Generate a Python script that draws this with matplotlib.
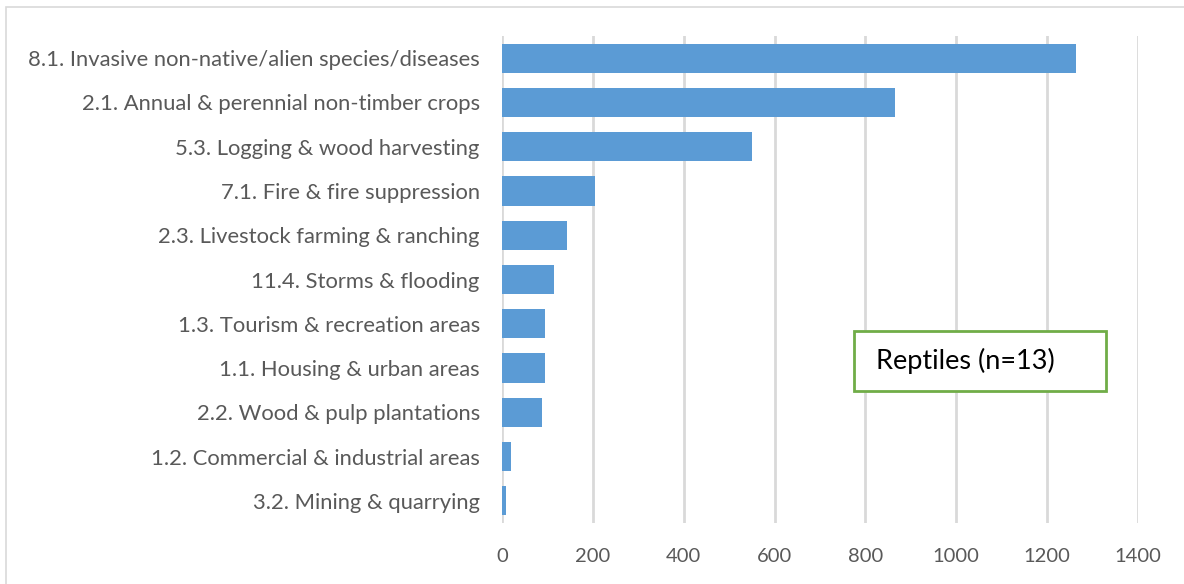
import matplotlib
matplotlib.use("Agg")
import matplotlib.pyplot as plt
from matplotlib.patches import Rectangle

plt.rcParams['font.family'] = ['Lato', 'DejaVu Sans']

# threat categories (top to bottom)
threats = ["8.1. Invasive non-native/alien species/diseases",
           "2.1. Annual & perennial non-timber crops",
           "5.3. Logging & wood harvesting",
           "7.1. Fire & fire suppression",
           "2.3. Livestock farming & ranching",
           "11.4. Storms & flooding",
           "1.3. Tourism & recreation areas",
           "1.1. Housing & urban areas",
           "2.2. Wood & pulp plantations",
           "1.2. Commercial & industrial areas",
           "3.2. Mining & quarrying"]
values = [1264, 866, 551, 205, 142, 115, 95, 94, 87, 20, 8]
x_ticks = [0, 200, 400, 600, 800, 1000, 1200, 1400]

fig = plt.figure(figsize=(11.84, 5.84), dpi=100)
ax = fig.add_axes([0.424, 0.1045, 0.537, 0.8338])

pos = range(len(threats))
ax.barh(pos, values, height=0.66, color='#5b9bd5', zorder=3)
ax.set_ylim(len(threats) - 0.5, -0.5)
ax.set_xlim(0, 1400)
ax.set_yticks(pos)
ax.set_yticklabels(threats)
ax.set_xticks(x_ticks)

ax.grid(axis='x', color='#d9d9d9', linewidth=2, zorder=0)
for s in ['top', 'right', 'bottom', 'left']:
    ax.spines[s].set_visible(False)
ax.tick_params(axis='both', length=0, labelcolor='#595959')
ax.tick_params(axis='y', pad=16, labelsize=15.8)
ax.tick_params(axis='x', pad=18, labelsize=14.5)

# legend-like box
ax.add_patch(Rectangle((0.554, 0.271), 0.396, 0.123, transform=ax.transAxes,
                       facecolor='white', edgecolor='#70ad47', linewidth=2, zorder=5))
ax.text(0.588, 0.333, "Reptiles (n=13)", transform=ax.transAxes, fontsize=19.5,
        color='black', va='center', ha='left', zorder=6)

# chart border
fig.patches.append(Rectangle((6 / 1184, -0.01), 1.2, 1 - 7 / 584 + 0.01, transform=fig.transFigure,
                             fill=False, edgecolor='#d9d9d9', linewidth=1.2))

fig.savefig("out.png", dpi=100)
